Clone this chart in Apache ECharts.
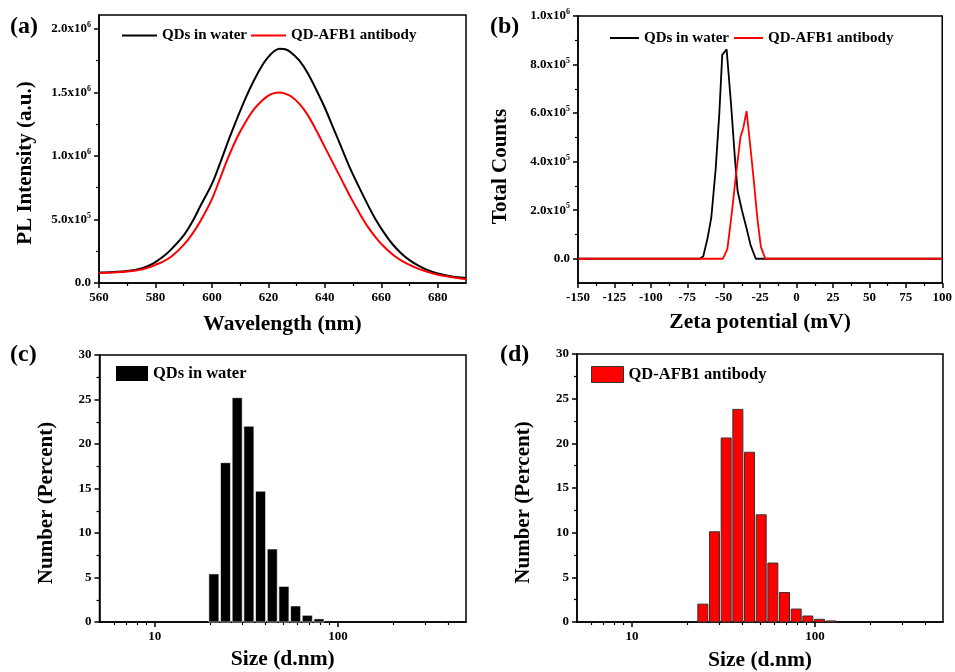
<!DOCTYPE html>
<html><head><meta charset="utf-8">
<script src="https://cdn.jsdelivr.net/npm/echarts@6/dist/echarts.min.js"></script>
<style>html,body{margin:0;padding:0;background:#fff}#c{width:955px;height:672px}</style>
</head><body><div id="c"></div>
<script>
// ---------- DATA ----------
const seriesNames = ['QDs in water', 'QD-AFB1 antibody'];
// (a) PL spectra, intensity in units of 1e6
const plScale = 1e6;
const wavelength = [560,565,570,575,578,580,583,586,590,593,596,600,603,606,609,612,615,618,620,622,624,626,628,631,634,637,640,643,646,649,652,655,658,661,664,667,670,673,676,680,684,687,690];
const plWater    = [0.082,0.087,0.095,0.115,0.14,0.165,0.212,0.275,0.375,0.48,0.61,0.78,0.95,1.13,1.3,1.46,1.6,1.72,1.78,1.825,1.845,1.84,1.815,1.75,1.65,1.52,1.38,1.22,1.06,0.9,0.76,0.625,0.5,0.395,0.305,0.235,0.18,0.138,0.105,0.075,0.056,0.046,0.04];
const plAntibody = [0.078,0.083,0.09,0.107,0.125,0.143,0.172,0.215,0.3,0.385,0.49,0.66,0.83,1.0,1.15,1.27,1.37,1.44,1.475,1.495,1.5,1.49,1.47,1.41,1.32,1.2,1.07,0.94,0.81,0.68,0.56,0.45,0.36,0.285,0.225,0.178,0.142,0.113,0.09,0.065,0.049,0.039,0.03];
// (b) zeta potential, counts in units of 1e5
const zetaScale = 1e5;
const zetaWaterMv = [-150,-66.5,-64,-61,-58.5,-55.5,-53,-51,-48,-45,-42.5,-40.5,-37.5,-34.5,-31.5,-28,100];
const zetaWaterCt = [0,0,0.1,0.87,1.7,3.7,6.0,8.4,8.63,6.4,4.3,2.8,2.0,1.3,0.55,0,0];
const zetaAbMv = [-150,-50.5,-47.5,-44.5,-41.5,-38.5,-36.5,-34.3,-31.5,-29,-26.8,-24.5,-21.5,100];
const zetaAbCt = [0,0,0.4,1.85,3.5,5.0,5.4,6.08,4.5,3.0,1.6,0.5,0,0];
// (c),(d) DLS size distributions
const sizeWater = [21.04,24.36,28.21,32.67,37.84,43.82,50.75,58.77,68.06,78.82];
const numWater  = [5.4,17.9,25.2,22.0,14.7,8.2,4.0,1.8,0.75,0.35];
const sizeAb = [24.36,28.21,32.67,37.84,43.82,50.75,58.77,68.06,78.82,91.28,105.7,122.4];
const numAb  = [2.0,10.1,20.6,23.8,19.0,12.0,6.6,3.3,1.45,0.67,0.3,0.12];
// tick values
const plMajorX = [560,580,600,620,640,660,680];
const plMinorX = [570,590,610,630,650,670];
const plMajorY = [0,5e5,1e6,1.5e6,2e6];
const plMinorY = [2.5e5,7.5e5,1.25e6,1.75e6];
const zetaMajorX = [-150,-125,-100,-75,-50,-25,0,25,50,75,100];
const zetaMinorX = [-137.5,-112.5,-87.5,-62.5,-37.5,-12.5,12.5,37.5,62.5,87.5];
const zetaMajorY = [0,2e5,4e5,6e5,8e5,1e6];
const zetaMinorY = [1e5,3e5,5e5,7e5,9e5];
const sizeMajorX = [10,100];
const sizeMinorX = [6,7,8,9,20,30,40,50,60,70,80,90,200,300,400];
const pctMajorY = [0,5,10,15,20,25,30];
const pctMinorY = [2.5,7.5,12.5,17.5,22.5,27.5];

// ---------- STYLE / LAYOUT ----------
const FONT = 'Liberation Serif';
const txt = {fontFamily: FONT, fontWeight: 'bold', color: '#000'};
const binRatio = 1.1578;

function sciLabel(v) {
  if (v === 0) return '{b|0.0}';
  const e = Math.floor(Math.log10(v) + 1e-9);
  const m = (v / Math.pow(10, e)).toFixed(1);
  return '{b|' + m + 'x10}{s|' + e + '}';
}
const sciRich = {
  b: {fontFamily: FONT, fontWeight: 'bold', fontSize: 13, color: '#000', lineHeight: 16},
  s: {fontFamily: FONT, fontWeight: 'bold', fontSize: 8, color: '#000', verticalAlign: 'top', lineHeight: 16, padding: [0,0,8,0]}
};

function mainAxis(grid, dim, type, min, max, ticks, name, gap, sci, namePad) {
  const ax = {
    gridIndex: grid, type: type, min: min, max: max,
    position: dim === 'x' ? 'bottom' : 'left',
    axisLine: {show: true, onZero: false, lineStyle: {color: '#000', width: 1.5}},
    axisTick: {show: true, inside: false, length: 5, customValues: ticks, lineStyle: {color: '#000', width: 1.5}},
    axisLabel: {show: true, customValues: ticks, margin: 8, fontFamily: FONT, fontWeight: 'bold', fontSize: 13, color: '#000'},
    splitLine: {show: false},
    name: name, nameLocation: 'middle', nameGap: gap,
    nameTextStyle: Object.assign({fontSize: dim === 'x' ? 21.5 : 21, padding: namePad || 0}, txt)
  };
  if (type === 'log') ax.logBase = 10;
  if (sci) { ax.axisLabel.formatter = sciLabel; ax.axisLabel.rich = sciRich; }
  return ax;
}
function minorAxis(grid, dim, type, min, max, ticks) {
  const ax = {
    gridIndex: grid, type: type, min: min, max: max,
    position: dim === 'x' ? 'bottom' : 'left',
    axisLine: {show: false, onZero: false},
    axisTick: {show: true, inside: false, length: 3, customValues: ticks, lineStyle: {color: '#000', width: 1.2}},
    axisLabel: {show: false},
    splitLine: {show: false}
  };
  if (type === 'log') ax.logBase = 10;
  return ax;
}

const grids = [
  {left: 99, top: 15, width: 367, height: 268},
  {left: 578, top: 16, width: 366, height: 267},
  {left: 99.5, top: 355, width: 366.5, height: 267},
  {left: 577, top: 354, width: 366, height: 268}
].map(g => Object.assign({show: true, borderColor: '#000', borderWidth: 1.5, backgroundColor: 'transparent', containLabel: false}, g));

const xAxes = [
  mainAxis(0, 'x', 'value', 560, 690, plMajorX, 'Wavelength (nm)', 30),
  minorAxis(0, 'x', 'value', 560, 690, plMinorX),
  mainAxis(1, 'x', 'value', -150, 100, zetaMajorX, 'Zeta potential (mV)', 28),
  minorAxis(1, 'x', 'value', -150, 100, zetaMinorX),
  mainAxis(2, 'x', 'log', 5, 500, sizeMajorX, 'Size (d.nm)', 26),
  minorAxis(2, 'x', 'log', 5, 500, sizeMinorX),
  mainAxis(3, 'x', 'log', 5, 500, sizeMajorX, 'Size (d.nm)', 27),
  minorAxis(3, 'x', 'log', 5, 500, sizeMinorX)
];
const yAxes = [
  mainAxis(0, 'y', 'value', 0, 2.11e6, plMajorY, 'PL Intensity (a.u.)', 63, true, [0, 28, 0, 0]),
  minorAxis(0, 'y', 'value', 0, 2.11e6, plMinorY),
  mainAxis(1, 'y', 'value', -1e5, 1e6, zetaMajorY, 'Total Counts', 67, true, [0, 34, 0, 0]),
  minorAxis(1, 'y', 'value', -1e5, 1e6, zetaMinorY),
  mainAxis(2, 'y', 'value', 0, 30, pctMajorY, 'Number (Percent)', 42, false, [0, 29, 0, 0]),
  minorAxis(2, 'y', 'value', 0, 30, pctMinorY),
  mainAxis(3, 'y', 'value', 0, 30, pctMajorY, 'Number (Percent)', 43, false, [0, 29, 0, 0]),
  minorAxis(3, 'y', 'value', 0, 30, pctMinorY)
];

function pairs(xs, ys, scale) { return xs.map((x, i) => [x, ys[i] * scale]); }
function barRender(fill, stroke, lw) {
  return function (params, api) {
    const c = api.value(0), v = api.value(1);
    const h = Math.pow(binRatio, 0.43);
    const p0 = api.coord([c / h, v]);
    const p1 = api.coord([c * h, 0]);
    return {type: 'rect', shape: {x: p0[0], y: p0[1], width: p1[0] - p0[0], height: p1[1] - p0[1]},
      style: {fill: fill, stroke: stroke, lineWidth: lw}};
  };
}

const series = [
  {name: seriesNames[0], type: 'line', xAxisIndex: 0, yAxisIndex: 0, data: pairs(wavelength, plWater, plScale),
   showSymbol: false, symbol: 'none', smooth: 0.35, lineStyle: {color: '#000', width: 2}, itemStyle: {color: '#000'}, z: 3},
  {name: seriesNames[1], type: 'line', xAxisIndex: 0, yAxisIndex: 0, data: pairs(wavelength, plAntibody, plScale),
   showSymbol: false, symbol: 'none', smooth: 0.35, lineStyle: {color: '#f00', width: 2}, itemStyle: {color: '#f00'}, z: 3},
  {name: seriesNames[0], type: 'line', xAxisIndex: 2, yAxisIndex: 2, data: pairs(zetaWaterMv, zetaWaterCt, zetaScale),
   showSymbol: false, symbol: 'none', lineStyle: {color: '#000', width: 1.8}, itemStyle: {color: '#000'}, z: 3},
  {name: seriesNames[1], type: 'line', xAxisIndex: 2, yAxisIndex: 2, data: pairs(zetaAbMv, zetaAbCt, zetaScale),
   showSymbol: false, symbol: 'none', lineStyle: {color: '#f00', width: 1.8}, itemStyle: {color: '#f00'}, z: 4},
  {name: seriesNames[0], type: 'custom', xAxisIndex: 4, yAxisIndex: 4, data: pairs(sizeWater, numWater, 1),
   encode: {x: 0, y: 1}, renderItem: barRender('#000', '#fff', 0.6), itemStyle: {color: '#000'}},
  {name: seriesNames[1], type: 'custom', xAxisIndex: 6, yAxisIndex: 6, data: pairs(sizeAb, numAb, 1),
   encode: {x: 0, y: 1}, renderItem: barRender('#f00', '#333', 1), itemStyle: {color: '#f00'}}
];

const legTxt = Object.assign({fontSize: 15}, txt);
const legTxtBig = Object.assign({fontSize: 16.5}, txt);
const lineIcon = (name, color) => ({name: name, icon: 'rect', itemStyle: {color: color, borderWidth: 0}});
const legends = [
  {left: 122, top: 28, padding: 0, itemWidth: 35, itemHeight: 2, itemGap: 4, selectedMode: false, textStyle: legTxt,
   data: [lineIcon(seriesNames[0], '#000'), lineIcon(seriesNames[1], '#f00')]},
  {left: 610, top: 30.5, padding: 0, itemWidth: 29, itemHeight: 2, itemGap: 5, selectedMode: false, textStyle: legTxt,
   data: [lineIcon(seriesNames[0], '#000'), lineIcon(seriesNames[1], '#f00')]},
  {left: 116, top: 365, padding: 0, itemWidth: 32, itemHeight: 15, selectedMode: false, textStyle: legTxtBig,
   data: [{name: seriesNames[0], icon: 'rect', itemStyle: {color: '#000', borderWidth: 0}}]},
  {left: 591, top: 366, padding: 0, itemWidth: 32, itemHeight: 16, selectedMode: false, textStyle: legTxtBig,
   data: [{name: seriesNames[1], icon: 'rect', itemStyle: {color: '#f00', borderColor: '#333', borderWidth: 1}}]}
];

const panelTitle = (t, l, tp) => ({text: t, left: l, top: tp, padding: 0, textStyle: Object.assign({fontSize: 24}, txt)});
const titles = [panelTitle('(a)', 10, 15), panelTitle('(b)', 490, 15), panelTitle('(c)', 10, 343), panelTitle('(d)', 500, 343)];

const chart = echarts.init(document.getElementById('c'), null, {renderer: 'canvas'});
chart.setOption({
  animation: false,
  backgroundColor: '#fff',
  title: titles,
  legend: legends,
  grid: grids,
  xAxis: xAxes,
  yAxis: yAxes,
  series: series
});
</script>
</body></html>
